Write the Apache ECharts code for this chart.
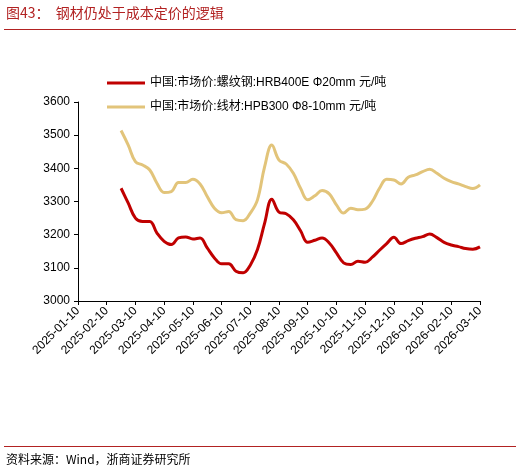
<!DOCTYPE html>
<html><head><meta charset="utf-8">
<script src="https://cdn.jsdelivr.net/npm/echarts@6/dist/echarts.min.js"></script>
<style>html,body{margin:0;padding:0;background:#fff}#c{width:520px;height:473px}</style>
</head><body><div id="c"></div>
<script>
const tickLabels = ['2025-01-10','2025-02-10','2025-03-10','2025-04-10','2025-05-10','2025-06-10','2025-07-10','2025-08-10','2025-09-10','2025-10-10','2025-11-10','2025-12-10','2026-01-10','2026-02-10','2026-03-10'];
const rebar = [null,null,null,null,null,null,3340,3295,3250,3240,3240,3205,3180,3170,3190,3193,3187,3190,3160,3130,3112,3112,3090,3085,3108,3155,3235,3307,3268,3263,3245,3212,3177,3183,3190,3175,3145,3115,3110,3120,3117,3132,3153,3173,3192,3173,3182,3189,3194,3202,3191,3177,3169,3164,3158,3156,3163];
const wire = [null,null,null,null,null,null,3514,3470,3420,3410,3395,3355,3327,3330,3357,3357,3367,3353,3315,3280,3266,3270,3245,3242,3265,3305,3405,3470,3425,3413,3385,3340,3305,3317,3333,3323,3290,3265,3280,3275,3277,3300,3340,3367,3365,3353,3373,3380,3390,3397,3385,3370,3360,3353,3345,3339,3350];
const cats = [];
for (let m = 0; m < tickLabels.length; m++) {
  cats.push(tickLabels[m]);
  if (m < tickLabels.length - 1) for (let q = 1; q < 4; q++) cats.push(tickLabels[m] + '#' + q);
}
const chart = echarts.init(document.getElementById('c'));
const ff = 'Liberation Sans, Noto Sans CJK SC, sans-serif';
chart.setOption({
  animation: false,
  textStyle: {fontFamily: ff},
  grid: {left: 78, right: 40, top: 102, bottom: 172},
  legend: {
    left: 102, top: 72, orient: 'vertical', itemGap: 12, itemWidth: 38, itemHeight: 3,
    icon: 'rect', textStyle: {fontSize: 12, color: '#000', fontFamily: ff},
    data: ['中国:市场价:螺纹钢:HRB400E Φ20mm 元/吨', '中国:市场价:线材:HPB300 Φ8-10mm 元/吨']
  },
  xAxis: {
    type: 'category', data: cats, boundaryGap: false,
    axisLine: {lineStyle: {color: '#000'}},
    axisTick: {interval: (i) => i % 4 === 0, length: 4, lineStyle: {color: '#000'}},
    axisLabel: {interval: (i) => i % 4 === 0, rotate: 45, fontSize: 12, color: '#000', margin: 8}
  },
  yAxis: {
    type: 'value', min: 3000, max: 3600, interval: 100,
    splitLine: {show: false},
    axisLine: {show: true, lineStyle: {color: '#000'}},
    axisTick: {show: true, length: 4, lineStyle: {color: '#000'}},
    axisLabel: {fontSize: 12, color: '#000', formatter: (v) => String(v)}
  },
  series: [
    {name: '中国:市场价:螺纹钢:HRB400E Φ20mm 元/吨', type: 'line', data: rebar, smooth: 0.4, symbol: 'none',
     lineStyle: {color: '#C00000', width: 3}, itemStyle: {color: '#C00000'}},
    {name: '中国:市场价:线材:HPB300 Φ8-10mm 元/吨', type: 'line', data: wire, smooth: 0.4, symbol: 'none',
     lineStyle: {color: '#E2C47A', width: 3}, itemStyle: {color: '#E2C47A'}}
  ],
  graphic: [
    {type: 'text', left: 6, top: 6, style: {text: '图43：  钢材仍处于成本定价的逻辑', fontSize: 14, fill: '#B22222', fontFamily: 'Noto Sans CJK SC'}},
    {type: 'rect', shape: {x: 4, y: 29, width: 512, height: 1}, style: {fill: '#B22222'}},
    {type: 'rect', shape: {x: 4, y: 446, width: 512, height: 1}, style: {fill: '#B22222'}},
    {type: 'text', left: 6, top: 453, style: {text: '资料来源：Wind，浙商证券研究所', fontSize: 12, fill: '#000', fontFamily: 'Noto Sans CJK SC'}}
  ]
});
</script></body></html>
